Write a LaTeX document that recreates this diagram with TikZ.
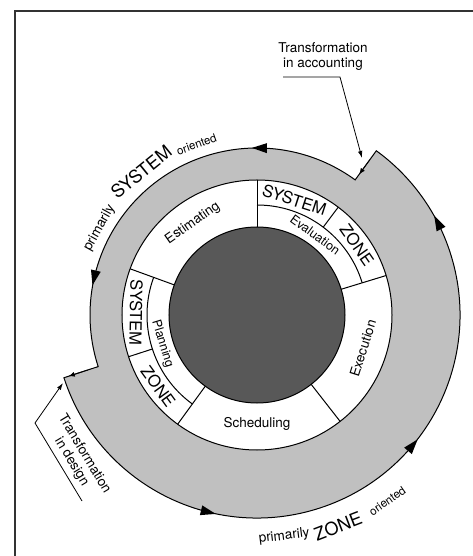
\documentclass[tikz,border=0pt]{standalone}
\usepackage{fontspec}
\setmainfont{TeX Gyre Heros}
\usetikzlibrary{arrows.meta}

\definecolor{bandgray}{RGB}{192,192,192}
\definecolor{coregray}{RGB}{88,88,88}

\newcommand{\labsize}{\fontsize{13.5}{15}\selectfont}
\newcommand{\capsize}{\fontsize{16.5}{18}\selectfont}
\newcommand{\bigcapsize}{\fontsize{18}{20}\selectfont}
\newcommand{\subsize}{\fontsize{12.5}{14}\selectfont}
\newcommand{\smallsize}{\fontsize{11.5}{13}\selectfont}

\begin{document}
\begin{tikzpicture}[x = 1pt, y = 1pt, line width = 1pt, every node/.style={font=\labsize, inner sep=0pt}, leader/.style={line width=0.8pt, -{Latex[length=7pt, width=4.5pt]}}, flow/.style={line width=0.8pt, -{Latex[length=6pt, width=5pt]}}]

\useasboundingbox (-257, -241) rectangle (216, 315);

\draw[line width=1.3pt, black!80] (216, 304) -- (-242, 304) -- (-242, -241);

\draw[fill=bandgray] (54:203) -- (54:167) arc[start angle=54, end angle=198, radius=167] -- (198:203) arc[start angle=198, end angle=414, radius=203] -- cycle;

\draw[fill=white] (0, 0) circle[radius=135];

\draw[fill=coregray] (0, 0) circle[radius=88];

\foreach \a in {17, 90, 160, 234, 308}
  \draw (\a:88) -- (\a:135);

\draw (17:110) arc[start angle=17, end angle=90, radius=110];
\draw (53:110) -- (53:135);

\draw (160:110) arc[start angle=160, end angle=234, radius=110];
\draw (198:110) -- (198:135);

\foreach \a/\r in {89/167, 167/167, 27/203, 256/203, 320/203}
  \fill[rotate=\a] (\r, 8) -- ({\r-5}, -7) -- ({\r+5}, -7) -- cycle;

\draw[flow] (54:192) -- (54:174);
\draw[flow] (198:178) -- (198:198);

\draw (125:112) node[rotate=35] (est) {Estimating};
\draw (270:109) node (sched) {Scheduling};
\draw (-17.5:111) node[rotate=72.5] (exec) {Execution};
\draw (54:99) node[rotate=-36, font=\subsize] (eval) {Evaluation};
\draw (197:99) node[rotate=-73, font=\subsize] (plan) {Planning};

\draw (72:121) node[rotate=-18, font=\capsize] (sysR) {SYSTEM};
\draw (35:122) node[rotate=-55, font=\capsize] (zoneR) {ZONE};
\draw (179:121) node[rotate=-91, font=\capsize] (sysL) {SYSTEM};
\draw (216:122) node[rotate=-54, font=\capsize] (zoneL) {ZONE};

\draw (151:180) node[rotate=61] (primS) {primarily};
\draw (129:184) node[rotate=39, font=\bigcapsize] (sysO) {SYSTEM};
\draw (109.5:181) node[rotate=19.5, font=\smallsize] (oriS) {oriented};

\draw (277:223) node[rotate=7] (primZ) {primarily};
\draw (291:226) node[rotate=21, font=\bigcapsize] (zoneO) {ZONE};
\draw (305:227) node[rotate=35, font=\smallsize] (oriZ) {oriented};

\draw (66, 258) node[align=center] (acct) {Transformation\\in accounting};
\draw (-179, -143) node[rotate=-59, align=center] (design) {Transformation\\in design};

\coordinate (acctA) at (26, 238);
\coordinate (acctB) at (83, 238);
\coordinate (acctTip) at (105, 157);

\coordinate (designA) at (-175, -186);
\coordinate (designB) at (-222, -108);
\coordinate (designTip) at (-194, -68);

\draw[leader] (acctA) -- (acctB) -- (acctTip);
\draw[leader] (designA) -- (designB) -- (designTip);
\end{tikzpicture}
\end{document}
